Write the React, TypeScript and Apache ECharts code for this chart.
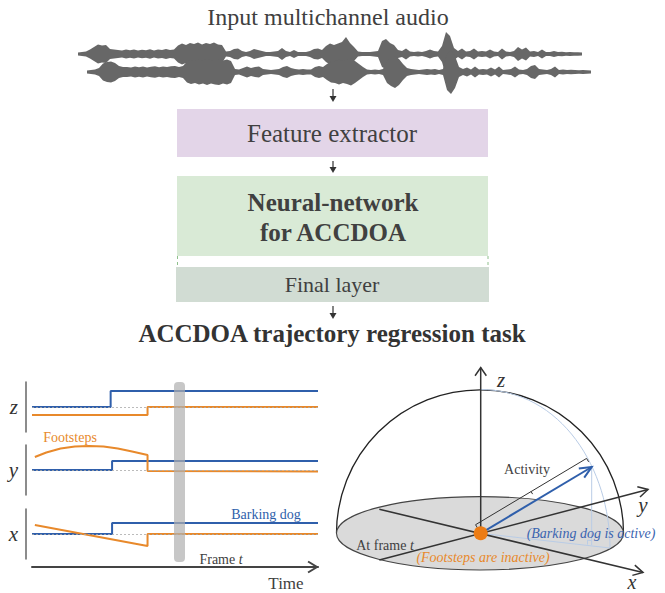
import React, { useEffect, useRef } from 'react';
import * as echarts from 'echarts';

// ---------- texts ----------
const TITLE = 'Input multichannel audio';
const STAGES = ['Feature extractor', 'Neural-network\nfor ACCDOA', 'Final layer'];
const TASK = 'ACCDOA trajectory regression task';
const ROW_NAMES = ['z', 'y', 'x'];

// ---------- waveform envelopes (amplitude per sample) ----------
const waveUpper = [
  1.5, 2, 2.5, 4.5, 7, 9.5, 8.5, 9, 5, 4.5,
  4, 3.5, 4.5, 3.8, 4.5, 3.5, 4.2, 3.8, 4.8, 3.6,
  4.5, 4, 5, 4, 4.5, 8.5, 10.5, 9, 11, 10,
  11.5, 9.5, 11, 10, 11.5, 9.5, 9, 2.5, 3, 5,
  5.5, 3, 2, 3, 5, 4, 3, 2, 2, 2.5,
  3, 6, 3, 2, 4, 2, 2, 2, 3, 5,
  5.5, 4, 8, 10.5, 9, 10.5, 12, 17, 11, 7,
  2.5, 2, 2, 2, 2.5, 3, 13, 15, 11, 9,
  4, 3, 5.5, 2.5, 2, 2.5, 2, 3, 4.5, 3,
  2.5, 8, 22, 18, 6, 3, 5.5, 2.5, 3, 5.5,
  2.5, 3, 2.5, 4.5, 2.5, 2, 5.5, 2.5, 2, 3,
  7, 4.5, 6.5, 2.5, 3, 2, 4.5, 2, 2, 3,
  2, 2.2, 1.8, 2, 1.8, 1.8, 1.5,
];
const waveLower = [
  1.5, 2, 2.5, 4, 8.5, 10, 10.5, 9, 6, 5,
  5, 4.5, 5.5, 4.8, 5.5, 4.5, 5.2, 5.8, 4.8, 5.5, 5, 5.8, 6, 5, 6,
  10.5, 12, 11, 12.5, 11.5, 13, 11.5, 12.5, 13, 11.5, 12.5, 11,
  3, 2.5, 4, 5.5, 4, 5, 5.5, 3, 2.5, 2, 2.5, 3, 5,
  6, 4, 3, 2.5, 3, 2.5, 2.5, 5, 6, 5,
  8, 10.5, 11, 12.5, 11, 12, 13.5, 11, 8, 5,
  2.5, 2, 2.5, 2, 3, 11, 14, 16, 13, 8,
  4, 3, 2.5, 2, 2.5, 3, 2.5, 3, 2, 3,
  18, 22, 16, 5, 3, 4.5, 2.5, 5.5, 2.5, 3,
  2.5, 4.5, 2.5, 5.5, 2, 2.5, 3, 5.5, 2.5, 2,
  3, 6, 7, 3, 2.5, 2, 3, 5.5, 2, 2.5,
  2, 2.2, 2, 1.8, 2, 1.8, 1.5,
];

// ---------- ACCDOA trajectories (frame 0..100, offset from zero line) ----------
const zBlue = [[0, 0], [27.5, 0], [27.5, 16], [100, 16]];
const zOrange = [[0, -8], [40.4, -8], [40.4, 0], [100, 0]];
const yBlue = [[0, 0], [28, 0], [28, 9], [100, 9]];
const yOrange = [
  [1, 13], [5, 17.5], [10, 21.5], [15, 23.5], [20, 24], [25, 23.5], [30, 21.5], [35, 18.5],
  [40.4, 15], [40.4, -1], [100, -1.5],
];
const xBlue = [[0, 0], [28, 0], [28, 11], [100, 11]];
const xOrange = [[1, 9], [40.4, -12], [40.4, 0], [100, 0]];
const ROW_BLUE = [zBlue, yBlue, xBlue];
const ROW_ORANGE = [zOrange, yOrange, xOrange];

const SERIF = 'Liberation Serif';
const TXT = '#404040';
const BLUE = '#2f5fab';
const ORANGE = '#e8892b';
const LIGHTBLUE = '#b9cce6';

function waveSeries(amps: number[], idx: number) {
  return {
    type: 'custom',
    xAxisIndex: idx,
    yAxisIndex: idx,
    silent: true,
    clip: false,
    data: amps.map((a, i) => [i, a]),
    renderItem: (params: any, api: any) => {
      if (params.dataIndex !== 0) return { type: 'group', children: [] };
      const top = amps.map((a, i) => api.coord([i, a]));
      const bot = amps.map((a, i) => api.coord([i, -a])).reverse();
      return { type: 'polygon', shape: { points: top.concat(bot) }, style: { fill: '#676767' } };
    },
  };
}

function fontProps(size: number, o: { italic?: boolean; bold?: boolean } = {}) {
  return {
    fontSize: size,
    fontFamily: SERIF,
    fontStyle: o.italic ? 'italic' : 'normal',
    fontWeight: o.bold ? 'bold' : 'normal',
  };
}

function text(x: number, y: number, t: string, size: number, o: any = {}) {
  return {
    type: 'text',
    x,
    y,
    z: 50,
    silent: true,
    style: {
      text: t,
      ...fontProps(size, o),
      fill: o.color || TXT,
      align: o.align || 'center',
      verticalAlign: 'middle',
      lineHeight: o.lineHeight,
      rich: o.rich,
    },
  };
}

function line(x1: number, y1: number, x2: number, y2: number, stroke: string, lw: number, extra: any = {}) {
  return {
    type: 'line',
    z: extra.z ?? 30,
    silent: true,
    shape: { x1, y1, x2, y2 },
    style: { stroke, lineWidth: lw, lineDash: extra.dash },
  };
}

function chevron(tx: number, ty: number, dx: number, dy: number, len: number, spread: number, stroke: string, lw: number, z = 30) {
  const n = Math.hypot(dx, dy);
  const ux = dx / n;
  const uy = dy / n;
  const c = Math.cos(spread);
  const s = Math.sin(spread);
  const b1 = [-(ux * c - uy * s), -(ux * s + uy * c)];
  const b2 = [-(ux * c + uy * s), -(-ux * s + uy * c)];
  return {
    type: 'polyline',
    z,
    silent: true,
    shape: { points: [[tx + b1[0] * len, ty + b1[1] * len], [tx, ty], [tx + b2[0] * len, ty + b2[1] * len]] },
    style: { stroke, lineWidth: lw, fill: null },
  };
}

function downArrow(x: number, y1: number, y2: number) {
  return [
    line(x, y1, x, y2 - 4, '#333', 1.2),
    {
      type: 'polygon',
      z: 30,
      silent: true,
      shape: { points: [[x - 3.5, y2 - 6], [x + 3.5, y2 - 6], [x, y2]] },
      style: { fill: '#333' },
    },
  ];
}

function buildOption() {
  const grid: any[] = [
    { left: 78, top: 24, width: 504, height: 60 },
    { left: 87, top: 42, width: 504, height: 60 },
    { left: 32, top: 382, width: 286, height: 50 },
    { left: 32, top: 445, width: 286, height: 50 },
    { left: 32, top: 509, width: 286, height: 50 },
  ];
  const xAxis: any[] = [
    { gridIndex: 0, type: 'value', min: 0, max: waveUpper.length - 1, show: false },
    { gridIndex: 1, type: 'value', min: 0, max: waveLower.length - 1, show: false },
    { gridIndex: 2, type: 'value', min: 0, max: 100, show: false },
    { gridIndex: 3, type: 'value', min: 0, max: 100, show: false },
    {
      gridIndex: 4,
      type: 'value',
      min: 0,
      max: 100,
      offset: 8,
      axisLine: { show: true, onZero: false, lineStyle: { color: '#444', width: 2 } },
      axisTick: { show: false },
      axisLabel: { show: false },
      splitLine: { show: false },
    },
  ];
  const yAxis: any[] = [
    { gridIndex: 0, type: 'value', min: -30, max: 30, show: false },
    { gridIndex: 1, type: 'value', min: -30, max: 30, show: false },
  ];
  ROW_NAMES.forEach((name, k) => {
    yAxis.push({
      gridIndex: 2 + k,
      type: 'value',
      min: -25,
      max: 25,
      interval: 25,
      offset: 6,
      axisLine: { show: true, onZero: false, lineStyle: { color: '#666', width: 1.5 } },
      axisTick: { show: false },
      splitLine: { show: false },
      axisLabel: {
        formatter: (v: number) => (v === 0 ? name : ''),
        fontFamily: SERIF,
        fontStyle: 'italic',
        fontSize: 21,
        color: '#333',
        margin: 8,
      },
    });
  });

  const series: any[] = [waveSeries(waveUpper, 0), waveSeries(waveLower, 1)];
  ROW_NAMES.forEach((_, k) => {
    series.push({
      type: 'line',
      xAxisIndex: 2 + k,
      yAxisIndex: 2 + k,
      data: ROW_BLUE[k],
      symbol: 'none',
      lineStyle: { color: BLUE, width: 2 },
      markLine: {
        silent: true,
        symbol: 'none',
        label: { show: false },
        lineStyle: { color: '#aaa', type: [2, 2], width: 0.8 },
        data: [{ yAxis: 0 }],
      },
    });
    series.push({
      type: 'line',
      xAxisIndex: 2 + k,
      yAxisIndex: 2 + k,
      data: ROW_ORANGE[k],
      symbol: 'none',
      lineStyle: { color: ORANGE, width: 2 },
    });
  });

  // ---------- diagram graphics ----------
  const cx = 480.7;
  const cy = 533.3;
  const tip = [591.7, 467];
  const vdx = tip[0] - cx;
  const vdy = tip[1] - cy;
  const vn = Math.hypot(vdx, vdy);
  const px = vdy / vn; // perpendicular (up-left)
  const py = -vdx / vn;
  const off = 10;
  const a0 = [cx + px * off, cy + py * off];
  const a1 = [tip[0] + px * off, tip[1] + py * off];
  const amid = [(a0[0] + a1[0]) / 2, (a0[1] + a1[1]) / 2];
  const italicT = { i: { ...fontProps(14, { italic: true }), fill: TXT } };

  const g: any[] = [
    // title + pipeline
    text(328, 17, TITLE, 24),
    ...downArrow(333, 89, 102),
    { type: 'rect', z: 5, silent: true, shape: { x: 177, y: 109, width: 311, height: 48 }, style: { fill: '#e3d5e8' } },
    text(332, 133, STAGES[0], 25),
    ...downArrow(333, 161, 173),
    { type: 'rect', z: 5, silent: true, shape: { x: 177, y: 176, width: 311, height: 80 }, style: { fill: '#d9ead6' } },
    text(333, 217, STAGES[1], 25, { bold: true, lineHeight: 30 }),
    line(177.5, 256, 177.5, 267, '#8fc08c', 1, { dash: [3, 3] }),
    line(488, 256, 488, 267, '#8fc08c', 1, { dash: [3, 3] }),
    { type: 'rect', z: 5, silent: true, shape: { x: 176, y: 267, width: 313, height: 35 }, style: { fill: '#d1dcd3' } },
    text(332, 284, STAGES[2], 22),
    ...downArrow(333, 306, 319),
    text(332, 333, TASK, 25, { bold: true, color: '#333' }),

    // left panel extras
    { type: 'rect', z: 20, silent: true, shape: { x: 174, y: 382, width: 11, height: 180, r: 4 }, style: { fill: 'rgba(175,175,175,0.7)' } },
    chevron(317, 567, 1, 0, 10.5, 0.55, '#444', 2),
    text(70, 437, 'Footsteps', 14, { color: ORANGE }),
    text(266, 514, 'Barking dog', 14, { color: BLUE }),
    text(221, 559, 'Frame {i|t}', 14, { rich: italicT }),
    text(286, 583, 'Time', 17),

    // right panel: hemisphere
    {
      type: 'arc',
      z: 10,
      silent: true,
      shape: { cx: 480, cy: 533.3, r: 143.5, startAngle: Math.PI, endAngle: Math.PI * 2, clockwise: true },
      style: { stroke: '#222', lineWidth: 1.3, fill: null },
    },
    {
      type: 'ellipse',
      z: 11,
      silent: true,
      shape: { cx: 480, cy: 533.3, rx: 143.5, ry: 36.7 },
      style: { fill: '#dadada', stroke: '#444', lineWidth: 1.1 },
    },
    // light-blue projection guides
    {
      type: 'bezierCurve',
      z: 12,
      silent: true,
      shape: { x1: 480, y1: 389.5, cpx1: 562, cpy1: 389.5, cpx2: 610, cpy2: 470, x2: 610, y2: 548 },
      style: { stroke: LIGHTBLUE, lineWidth: 1, fill: null },
    },
    line(tip[0], tip[1], tip[0], 545, LIGHTBLUE, 1, { z: 12 }),
    line(cx, cy, 610, 548, LIGHTBLUE, 1, { z: 12 }),
    {
      type: 'polyline',
      z: 12,
      silent: true,
      shape: { points: [[587.5, 544.6], [587.5, 540.2], [591.7, 540.6]] },
      style: { stroke: LIGHTBLUE, lineWidth: 1, fill: null },
    },
    // axes
    line(379.3, 509.3, 643, 572.5, '#333', 1.5, { z: 13 }),
    chevron(643, 572.5, 643 - 379.3, 572.5 - 509.3, 11, 0.5, '#333', 1.5, 13),
    line(379.3, 560, 648, 489.5, '#333', 1.5, { z: 13 }),
    chevron(648, 489.5, 648 - 379.3, 489.5 - 560, 11, 0.5, '#333', 1.5, 13),
    line(cx, cy, cx, 367.5, '#333', 1.5, { z: 13 }),
    chevron(cx, 367.5, 0, -1, 10, 0.6, '#333', 1.5, 13),
    // activity dimension line
    line(a0[0], a0[1], a1[0], a1[1], '#333', 1, { z: 14 }),
    line(a0[0], a0[1], a0[0] - px * 4, a0[1] - py * 4, '#333', 1, { z: 14 }),
    line(a1[0], a1[1], a1[0] - px * 4, a1[1] - py * 4, '#333', 1, { z: 14 }),
    line(amid[0], amid[1], amid[0] - px * 3, amid[1] - py * 3, '#333', 1, { z: 14 }),
    // barking dog vector
    line(cx, cy, tip[0], tip[1], BLUE, 2, { z: 15 }),
    chevron(tip[0], tip[1], vdx, vdy, 13, 0.42, BLUE, 2, 15),
    // footsteps (inactive) at origin
    { type: 'circle', z: 16, silent: true, shape: { cx, cy, r: 7 }, style: { fill: '#ec7c14' } },
    // right panel texts
    text(501, 380, 'z', 21, { italic: true, color: '#333' }),
    text(643, 505, 'y', 21, { italic: true, color: '#333' }),
    text(632, 582, 'x', 20, { italic: true, color: '#333' }),
    text(527, 469, 'Activity', 14),
    text(591, 533, '(Barking dog is active)', 14, { italic: true, color: '#3a64b0' }),
    text(385, 545, 'At frame {i|t}', 14, { rich: italicT }),
    text(483, 557, '(Footsteps are inactive)', 14, { italic: true, color: ORANGE }),
  ];

  return {
    animation: false,
    backgroundColor: '#ffffff',
    grid,
    xAxis,
    yAxis,
    series,
    graphic: { elements: g },
  };
}

export default function App() {
  const ref = useRef<HTMLDivElement>(null);
  useEffect(() => {
    const chart = echarts.init(ref.current as HTMLDivElement, null, { renderer: 'svg' });
    chart.setOption(buildOption() as any);
    return () => chart.dispose();
  }, []);
  return (
    <div
      ref={ref}
      style={{ position: 'absolute', left: 0, top: 0, width: 665, height: 593, background: '#fff' }}
    />
  );
}
